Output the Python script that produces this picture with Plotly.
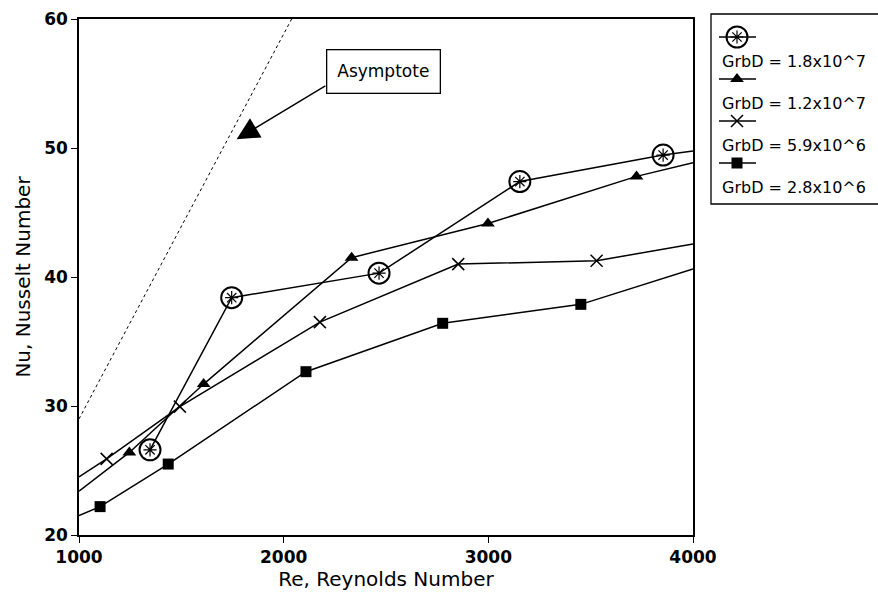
import plotly.graph_objects as go

# ---------------- data ----------------
re_circle = [1347, 1746, 2466, 3154, 3854]
nu_circle = [26.6, 38.4, 40.3, 47.4, 49.45]
re_tri = [1246, 1609, 2332, 2998, 3724]
nu_tri = [26.4, 31.7, 41.5, 44.15, 47.8]
re_cross = [1135, 1493, 2177, 2853, 3529]
nu_cross = [25.9, 29.95, 36.5, 41.0, 41.26]
re_square = [1103, 1436, 2109, 2777, 3452]
nu_square = [22.2, 25.5, 32.66, 36.41, 37.88]

# where each drawn curve meets the frame (Re = 1000 / Re = 4000)
re_left, re_right = 1000, 4000
nu_circle_right = 49.77
nu_tri_left, nu_tri_right = 23.4, 48.86
nu_cross_left, nu_cross_right = 24.5, 42.56
nu_square_left, nu_square_right = 21.5, 40.62

# asymptote line
re_asym = [1000, 2039]
nu_asym = [29.0, 60.0]

series_labels = ["GrbD = 1.8x10^7", "GrbD = 1.2x10^7",
                 "GrbD = 5.9x10^6", "GrbD = 2.8x10^6"]
x_ticks = [1000, 2000, 3000, 4000]
y_ticks = [20, 30, 40, 50, 60]

# ---------------- styling ----------------
FONT = "DejaVu Sans"
BLACK = "black"
LW = 1.5

fig = go.Figure()

# asymptote
fig.add_trace(go.Scatter(x=re_asym, y=nu_asym, mode="lines",
                         line=dict(color=BLACK, width=1, dash="dot"),
                         showlegend=False, hoverinfo="skip"))

# curves
fig.add_trace(go.Scatter(x=re_circle + [re_right], y=nu_circle + [nu_circle_right],
                         mode="lines", line=dict(color=BLACK, width=LW),
                         showlegend=False, hoverinfo="skip"))
fig.add_trace(go.Scatter(x=[re_left] + re_tri + [re_right],
                         y=[nu_tri_left] + nu_tri + [nu_tri_right],
                         mode="lines", line=dict(color=BLACK, width=LW),
                         showlegend=False, hoverinfo="skip"))
fig.add_trace(go.Scatter(x=[re_left] + re_cross + [re_right],
                         y=[nu_cross_left] + nu_cross + [nu_cross_right],
                         mode="lines", line=dict(color=BLACK, width=LW),
                         showlegend=False, hoverinfo="skip"))
fig.add_trace(go.Scatter(x=[re_left] + re_square + [re_right],
                         y=[nu_square_left] + nu_square + [nu_square_right],
                         mode="lines", line=dict(color=BLACK, width=LW),
                         showlegend=False, hoverinfo="skip"))

# markers
MK_CIRCLE = dict(symbol="circle-open", size=21, color=BLACK, line=dict(width=2, color=BLACK))
MK_AST = dict(symbol="asterisk-open", size=11, color=BLACK, line=dict(width=1.2, color=BLACK))
MK_TRI = dict(symbol="triangle-up", size=12, color=BLACK, line=dict(width=0))
MK_CROSS = dict(symbol="x-thin-open", size=12, color=BLACK, line=dict(width=1.5, color=BLACK))
MK_SQ = dict(symbol="square", size=11, color=BLACK, line=dict(width=0))

for xs, ys, mk in [(re_circle, nu_circle, MK_CIRCLE), (re_circle, nu_circle, MK_AST),
                   (re_tri, nu_tri, MK_TRI), (re_cross, nu_cross, MK_CROSS),
                   (re_square, nu_square, MK_SQ)]:
    fig.add_trace(go.Scatter(x=xs, y=ys, mode="markers", marker=mk,
                             cliponaxis=False, showlegend=False))

# ---------------- hand-drawn legend (pixel-space axes x2/y2) ----------------
W, H = 878, 592
ML, MR, MT, MB = 79, 0, 0, 57
PLOT_R, PLOT_T = 693, 19
LEG_AX_L = 705
LEG_L, LEG_T, LEG_B = 711, 14, 204
ROW0, PITCH, TXT_OFF = 37, 42, 24
SYM_X0, SYM_X1, SYM_XC, TXT_X = 719, 756, 737, 720

legend_markers = [[MK_CIRCLE, MK_AST], [MK_TRI], [MK_CROSS], [MK_SQ]]
for i, mks in enumerate(legend_markers):
    yrow = ROW0 + i * PITCH
    fig.add_trace(go.Scatter(x=[SYM_X0, SYM_X1], y=[yrow, yrow], mode="lines",
                             line=dict(color=BLACK, width=LW), xaxis="x2", yaxis="y2",
                             showlegend=False, hoverinfo="skip"))
    for mk in mks:
        fig.add_trace(go.Scatter(x=[SYM_XC], y=[yrow], mode="markers", marker=mk,
                                 xaxis="x2", yaxis="y2", showlegend=False,
                                 cliponaxis=False, hoverinfo="skip"))
    fig.add_annotation(x=TXT_X, y=yrow + TXT_OFF, xref="x2", yref="y2",
                       text=series_labels[i], showarrow=False,
                       xanchor="left", yanchor="middle",
                       font=dict(family=FONT, size=16, color=BLACK))

fig.add_shape(type="rect", xref="x2", yref="y2", x0=LEG_L, x1=LEG_L + 200,
              y0=LEG_T, y1=LEG_B, line=dict(color=BLACK, width=1.3))

# ---------------- asymptote label and arrow ----------------
fig.add_annotation(x=1770, y=50.67, ax=2211, ay=54.88, xref="x", yref="y",
                   axref="x", ayref="y", text="", showarrow=True,
                   arrowhead=2, arrowsize=3.2, arrowwidth=1.4, arrowcolor=BLACK,
                   font=dict(size=1))
fig.add_annotation(x=2487, y=55.9, xref="x", yref="y", text="Asymptote",
                   showarrow=False, xanchor="center", yanchor="middle",
                   width=106, height=36, borderpad=3, bgcolor="white",
                   bordercolor=BLACK, borderwidth=1.3,
                   font=dict(family=FONT, size=17, color=BLACK))

plot_w = W - ML - MR
plot_h = H - MT - MB
axis_common = dict(showline=True, linecolor=BLACK, linewidth=1.5, mirror=True,
                   showgrid=False, zeroline=False, ticks="outside", ticklen=6,
                   tickwidth=1.3, tickcolor=BLACK, automargin=False,
                   tickfont=dict(family=FONT, size=17, color=BLACK, weight="bold"))

fig.update_layout(
    width=W, height=H,
    margin=dict(l=ML, r=MR, t=MT, b=MB, autoexpand=False),
    paper_bgcolor="white", plot_bgcolor="rgba(0,0,0,0)",
    showlegend=False,
    xaxis=dict(domain=[0, (PLOT_R - ML) / plot_w], range=[1000, 4000],
               tickvals=x_ticks,
               title=dict(text="Re, Reynolds Number", standoff=5,
                          font=dict(family=FONT, size=20, color=BLACK)),
               **axis_common),
    yaxis=dict(domain=[0, (plot_h - PLOT_T) / plot_h], range=[20, 60],
               tickvals=y_ticks,
               title=dict(text="Nu, Nusselt Number", standoff=8,
                          font=dict(family=FONT, size=20, color=BLACK)),
               **axis_common),
    xaxis2=dict(domain=[(LEG_AX_L - ML) / plot_w, 1], range=[LEG_AX_L, W],
                visible=False, anchor="y2", fixedrange=True),
    yaxis2=dict(domain=[0, 1], range=[plot_h, 0], visible=False,
                anchor="x2", fixedrange=True),
)

fig.write_html("out.html", config={"displayModeBar": False},
               post_script="document.body.style.margin='0';")
